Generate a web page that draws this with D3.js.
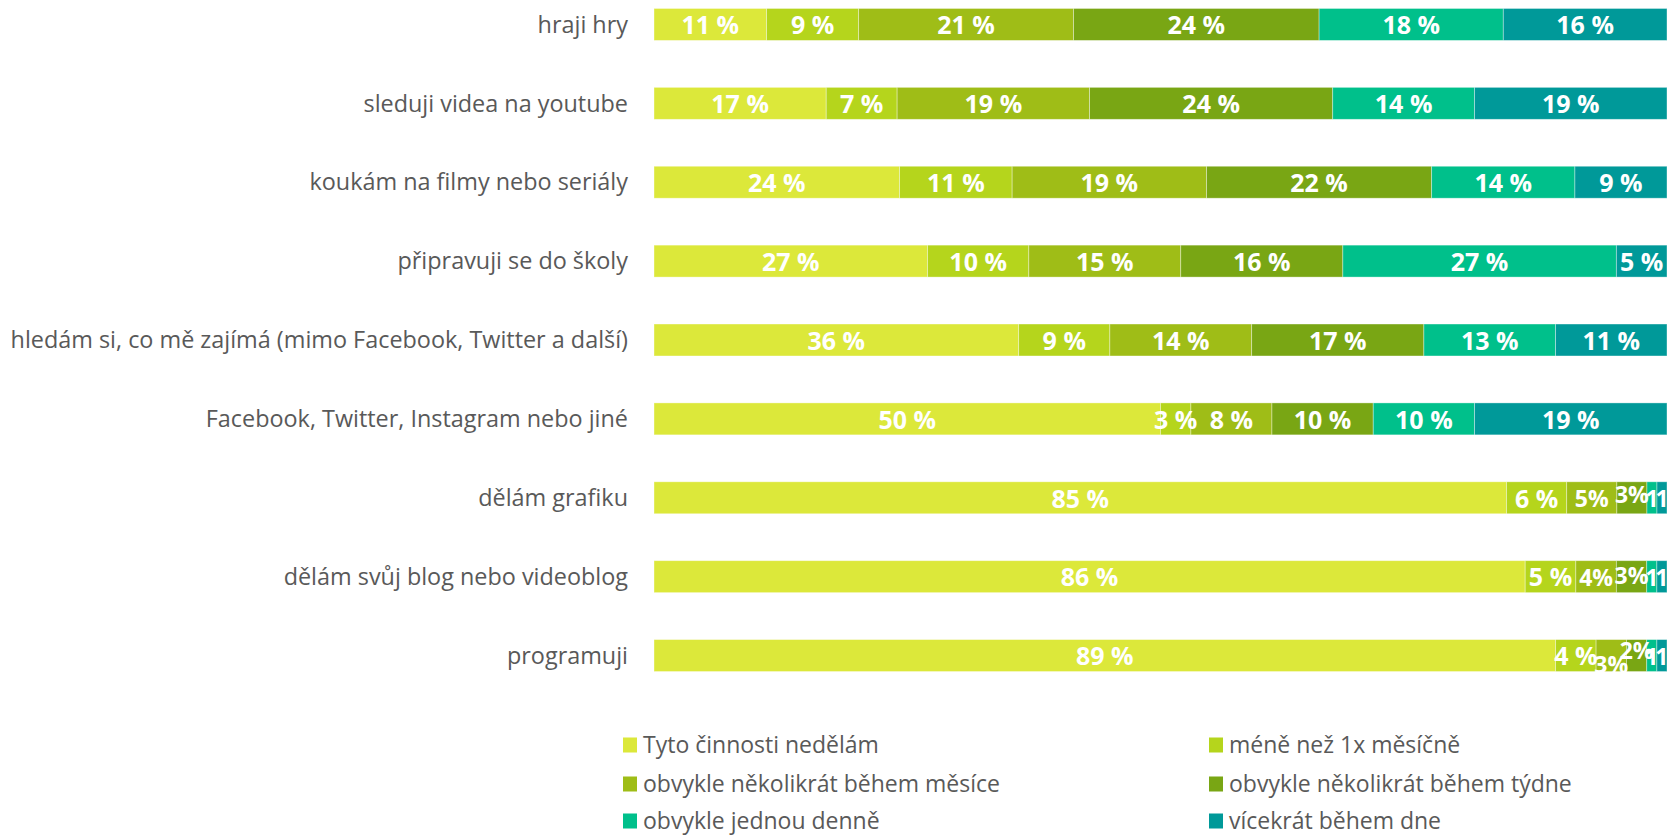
<!DOCTYPE html>
<html lang="cs">
<head>
<meta charset="utf-8">
<script src="https://cdn.jsdelivr.net/npm/d3@7"></script>
<style>
  html, body { margin: 0; padding: 0; background: #ffffff; }
  svg { display: block; }
  .cat { font-family: "Open Sans", sans-serif; fill: #595959; }
  .val { font-family: "Open Sans", sans-serif; font-weight: 700; fill: #ffffff; }
  .leg { font-family: "Open Sans", sans-serif; fill: #595959; }
</style>
</head>
<body>
<svg id="chart" width="1669" height="836"></svg>
<script>
// Activities, top to bottom
const activities = [
  "hraji hry",
  "sleduji videa na youtube",
  "koukám na filmy nebo seriály",
  "připravuji se do školy",
  "hledám si, co mě zajímá (mimo Facebook, Twitter a další)",
  "Facebook, Twitter, Instagram nebo jiné",
  "dělám grafiku",
  "dělám svůj blog nebo videoblog",
  "programuji"
];

// Frequency answers (stack order, left to right)
const frequencies = [
  "Tyto činnosti nedělám",
  "méně než 1x měsíčně",
  "obvykle několikrát během měsíce",
  "obvykle několikrát během týdne",
  "obvykle jednou denně",
  "vícekrát během dne"
];

// Share of respondents (%) per frequency, one array per frequency, in activity order
const nevers      = [11, 17, 24, 27, 36, 50, 85, 86, 89];
const lessMonthly = [ 9,  7, 11, 10,  9,  3,  6,  5,  4];
const fewMonthly  = [21, 19, 19, 15, 14,  8,  5,  4,  3];
const fewWeekly   = [24, 24, 22, 16, 17, 10,  3,  3,  2];
const onceDaily   = [18, 14, 14, 27, 13, 10,  1,  1,  1];
const manyDaily   = [16, 19,  9,  5, 11, 19,  1,  1,  1];

const seriesValues = [nevers, lessMonthly, fewMonthly, fewWeekly, onceDaily, manyDaily];

const colors = ["#dce83a", "#b5d51c", "#9fbd17", "#79a614", "#00c08b", "#009999"];

// Rows whose narrow segments use tight labels
const tightRows = [6, 7, 8];

// Small vertical nudges for crowded labels: [row, series, dy]
const labelNudges = [[6, 3, -4], [7, 3, -2], [8, 2, 8], [8, 3, -6]];

const svg = d3.select("#chart");

const rows = activities.map((name, i) => {
  const r = { name };
  frequencies.forEach((f, j) => { r[f] = seriesValues[j][i]; });
  return r;
});

const stack = d3.stack().keys(frequencies).offset(d3.stackOffsetExpand);
const layers = stack(rows);

const x = d3.scaleLinear().domain([0, 1]).range([654, 1667]);
const y = d3.scaleBand().domain(activities).range([-15, 695])
  .paddingInner(0.595).paddingOuter(0.2975);

// Category labels
svg.append("g").selectAll("text")
  .data(activities)
  .join("text")
  .attr("class", "cat")
  .attr("x", 628)
  .attr("y", d => y(d) + y.bandwidth() / 2)
  .attr("dy", "0.35em")
  .attr("text-anchor", "end")
  .style("font-size", "23.4px")
  .text(d => d);

// Bars
const layerG = svg.append("g").selectAll("g")
  .data(layers)
  .join("g")
  .attr("fill", (d, i) => colors[i]);

layerG.selectAll("rect")
  .data(d => d)
  .join("rect")
  .attr("x", d => x(d[0]))
  .attr("y", d => y(d.data.name))
  .attr("width", d => x(d[1]) - x(d[0]))
  .attr("height", y.bandwidth())
  .attr("stroke", "rgba(255,255,255,0.45)")
  .attr("stroke-width", 0.8);

// Value labels
function labelText(v, row, series) {
  if (tightRows.includes(row) && series >= 2) {
    return v <= 1 ? String(v) : v + "%";
  }
  return v + " %";
}
function nudge(row, series) {
  const n = labelNudges.find(a => a[0] === row && a[1] === series);
  return n ? n[2] : 0;
}

const labelG = svg.append("g");
layers.forEach((layer, j) => {
  layer.forEach((d, i) => {
    const v = seriesValues[j][i];
    labelG.append("text")
      .attr("class", "val")
      .attr("x", (x(d[0]) + x(d[1])) / 2)
      .attr("y", y(d.data.name) + y.bandwidth() / 2 + 1 + nudge(i, j))
      .attr("dy", "0.35em")
      .attr("text-anchor", "middle")
      .style("font-size", (tightRows.includes(i) && j >= 2) ? "23px" : "25px")
      .text(labelText(v, i, j));
  });
});

// Legend: two columns, three rows
const legendCols = [623, 1209];
const legendRows = [745, 784, 821];
const legend = svg.append("g").selectAll("g")
  .data(frequencies)
  .join("g")
  .attr("transform", (d, i) => `translate(${legendCols[i % 2]},${legendRows[Math.floor(i / 2)]})`);

legend.append("rect")
  .attr("x", 0).attr("y", -7.5)
  .attr("width", 14).attr("height", 15)
  .attr("fill", (d, i) => colors[i]);

legend.append("text")
  .attr("class", "leg")
  .attr("x", 20)
  .attr("y", 0)
  .attr("dy", "0.35em")
  .style("font-size", "23px")
  .text(d => d);
</script>
</body>
</html>
